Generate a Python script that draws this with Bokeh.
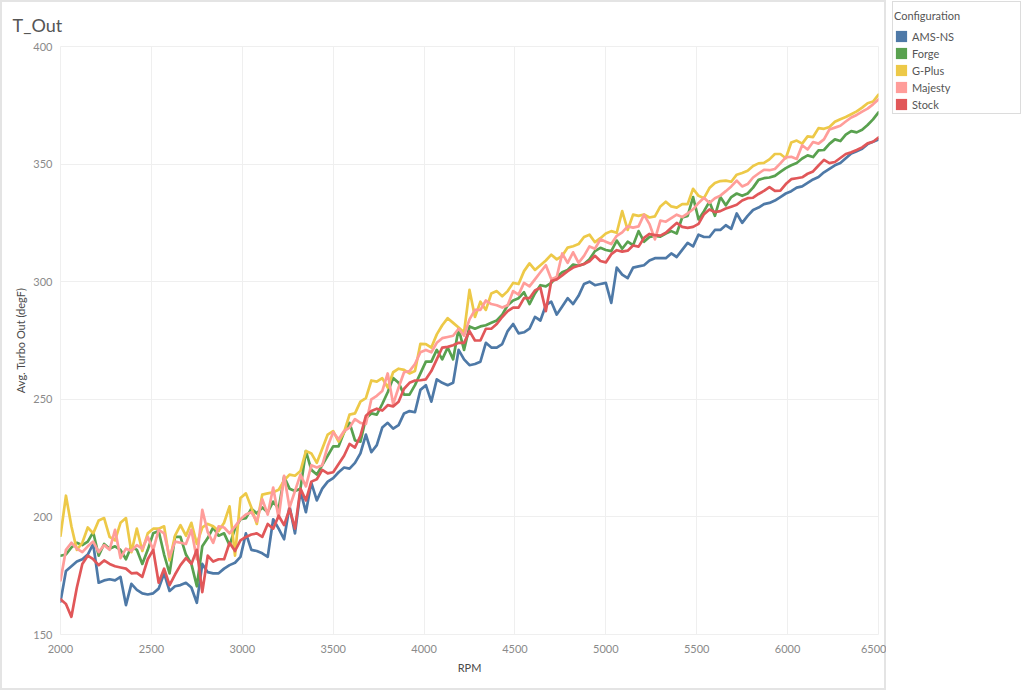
from bokeh.plotting import figure
from bokeh.layouts import row
from bokeh.models import Range1d, FixedTicker, Legend, LegendItem, ColumnDataSource
from bokeh.embed import file_html
from bokeh.resources import INLINE

# ---------------- data ----------------
rpm = list(range(2000, 6501, 30))

configs = ["AMS-NS", "Forge", "G-Plus", "Majesty", "Stock"]
colors = ["#4e79a7", "#59a14f", "#edc948", "#ff9d9a", "#e15759"]

ams_ns = [
    164, 177, 179, 181, 182, 184, 188.5, 172, 173, 173.5,
    173, 174.5, 162.5, 171.5, 169, 167.5, 167, 167.5, 169.5, 176,
    168.5, 170.5, 171, 172, 170, 163.5, 180, 176.5, 176, 176,
    178, 179.5, 180.5, 183, 193, 186, 185.5, 184.5, 183, 199,
    195, 190.5, 204.5, 193, 211, 202, 214.5, 207, 212, 215,
    216.5, 219, 221, 220.5, 223, 227, 235, 227.5, 230.5, 238,
    240, 237.5, 239, 244, 245, 244.5, 254, 256, 249, 258.5,
    257, 256, 257, 271, 267, 264.5, 265, 266, 274, 272,
    272, 273.5, 279, 282, 278, 278.5, 280, 285, 283.5, 290,
    291.5, 286, 289.5, 293, 290.5, 294, 299, 300, 298.5, 299,
    299.5, 291, 306, 303, 301.5, 306, 306.5, 307, 309, 310,
    310, 310, 312, 310.5, 313.5, 316.5, 315, 320, 319, 319,
    322, 322, 324, 322.5, 329, 325, 328, 330.5, 331.5, 333,
    333.5, 334.5, 336, 337.5, 338.5, 340, 340.5, 342, 343.5, 344.5,
    346.5, 348, 349.5, 350.5, 352.5, 354.5, 355.5, 356.5, 358.5, 359.5, 360.5,
]

forge = [
    183.5, 184, 187, 189, 188, 189.5, 193.5, 183.5, 188.5, 186.5,
    187.5, 186, 182, 187.5, 186, 180, 186, 193, 194, 184,
    176, 191.5, 191.5, 184, 180, 170.5, 187.5, 191, 195.5, 192,
    193, 188, 195, 199, 199.5, 203.5, 201.5, 204, 202, 206.5,
    203.5, 217, 212, 211, 212, 228, 220, 218, 222, 226,
    230, 230, 236, 240, 232.5, 232, 242, 244, 243.5, 248,
    253, 259, 257, 252, 252, 256, 261, 266, 266, 271,
    267, 272, 267, 280, 271, 281, 280, 281, 281.5, 282.5,
    283.5, 286, 290, 292, 293, 295.5, 290.5, 295, 298.5, 298,
    299.5, 302, 304, 305, 307.3, 306.8, 307.5, 309.5, 313, 314.4,
    313.5, 313, 317.5, 314, 317, 315.5, 321.5, 317, 319, 319.5,
    319.2, 320.5, 321.5, 320.5, 327.3, 328, 336, 326.5, 330, 334,
    328, 336, 332.5, 336, 337.5, 336.5, 337.5, 340, 343.3, 344,
    344.3, 345, 346.7, 348.3, 349.5, 350.5, 352.4, 353.7, 353, 355.8,
    356, 358.6, 360.5, 359.8, 362.5, 364, 363.5, 364.6, 366.6, 369, 372,
]

g_plus = [
    192, 209, 196, 186, 189, 195.5, 193, 198.5, 199.5, 191.5,
    190, 197.5, 199.5, 185, 195, 185.5, 193, 195, 195, 196,
    181.5, 192, 196.5, 192, 197.5, 188.5, 195.5, 197, 196, 194,
    197.5, 204.5, 183.5, 208, 210, 204, 197, 209.5, 210, 210.5,
    211.5, 215.5, 218, 217.5, 219.5, 228, 227, 223, 229, 235,
    236.5, 232, 236, 243.5, 244, 249, 250.5, 258, 257.5, 259,
    255, 261.5, 263, 262.5, 261, 262, 273.6, 273.5, 272, 277.6,
    281.5, 284.5, 282.5, 280.5, 278.5, 296.5, 285, 291.5, 288, 295,
    296, 293.8, 296, 299.5, 299, 304.5, 307.8, 305, 307, 309,
    311.5, 309.5, 311, 314.5, 315.1, 316, 319, 320, 316.8, 318.5,
    320.5, 321.5, 320.8, 330, 322, 328.5, 328, 328.6, 327.3, 327.8,
    332, 334, 332, 331.5, 333, 333, 339.5, 336.5, 335.5, 339.8,
    342, 342.8, 343, 342.5, 345.5, 346.2, 347.2, 349.2, 350.3, 350.5,
    352, 354.3, 354.3, 352.5, 359.2, 360, 358.7, 361.8, 361.5, 365.3,
    365, 365.8, 368, 369.1, 370, 371.2, 372.4, 374, 375.9, 376.6, 379.5,
]

majesty = [
    173, 186, 189, 186.5, 185, 187.5, 189.5, 185, 188, 186,
    194.5, 182.5, 186.5, 185.5, 188, 186.5, 191.5, 186, 194.5, 193,
    183, 189.5, 189, 188.5, 194.5, 182, 203, 193.5, 189, 196,
    195.5, 193, 196, 199, 201, 202, 198, 207.5, 201, 212.5,
    199.5, 217.5, 204, 211, 218, 213, 222, 221, 222, 230,
    236, 233, 236.5, 238, 241.6, 240, 239.5, 250, 251.5, 253.5,
    261, 248, 255, 261.5, 262, 265, 270, 271, 270, 274,
    276, 276.5, 277, 280, 277, 284, 288, 288, 292, 290.5,
    290, 289, 290, 296, 294.5, 299.5, 298, 301, 304, 307,
    301, 302, 312, 308, 312.5, 308, 311, 315, 314, 318,
    317, 316, 319.5, 321, 323.5, 323, 323.5, 328.5, 324.5, 318,
    326, 325.5, 327, 328.5, 327.5, 329, 330.8, 333.5, 335.7, 333.5,
    335.5, 336.6, 338.5, 340.5, 343, 340.5, 341.5, 344.3, 346, 347.6,
    347.4, 347.9, 350.3, 352.9, 353.1, 352.2, 358, 356.2, 359.4, 358.7,
    360.5, 364.7, 365.5, 366.3, 368.1, 369.8, 370.9, 372.3, 373.6, 375.4, 377.5,
]

stock = [
    165, 163, 157.5, 170, 180, 183.5, 182, 179.5, 181.5, 180,
    179, 178.5, 178, 176, 176.2, 174.5, 182, 186, 172, 178,
    171, 175.5, 179.5, 182.5, 180, 186, 168, 183.5, 181, 182,
    182, 189, 185.5, 190, 191.5, 192.5, 193, 191.5, 197, 195,
    200.5, 196.5, 203.5, 195, 212, 207, 215, 216, 220, 218.5,
    219, 222.5, 226, 231, 229.5, 234.5, 243, 245, 246, 245.2,
    247.5, 247, 249, 254.5, 257, 258, 258.1, 258.5, 262, 267,
    272, 272.3, 273, 274, 274, 279, 275, 275, 280, 280,
    282, 285, 287.5, 289, 289, 293, 293, 296.3, 297.5, 287.5,
    300.3, 301, 302.7, 304.5, 306, 306.8, 307.5, 308.7, 311, 308.8,
    308.2, 311.7, 313.4, 312.8, 313.2, 315.4, 314.9, 318.6, 320.3, 319.8,
    319.6, 320.8, 322.9, 325, 323.3, 322.9, 323.3, 324.6, 328.7, 330.7,
    329.6, 330, 331.1, 331.9, 332.7, 334.5, 335.5, 335.7, 337.3, 338.6,
    340.2, 338.6, 338.7, 341.5, 343.6, 344, 344.4, 345.9, 346.9, 349.4,
    351.8, 350.4, 350.9, 352.6, 354.3, 355, 356, 357.1, 358.8, 359.5, 361.3,
]

series = [ams_ns, forge, g_plus, majesty, stock]

x_ticks = [2000, 2500, 3000, 3500, 4000, 4500, 5000, 5500, 6000, 6500]
y_ticks = [150, 200, 250, 300, 350, 400]

FONT = "Lato"
H = 692
W_MAIN = 886
W_LEG = 136

# ---------------- main chart ----------------
p = figure(
    width=W_MAIN, height=H,
    output_backend="svg", toolbar_location=None,
    x_range=Range1d(2000, 6500), y_range=Range1d(150, 400),
    min_border_left=60, min_border_right=W_MAIN - 60 - 818,
    min_border_top=44, min_border_bottom=H - 634,
    title="T_Out",
)
p.frame_align = False

p.background_fill_color = "white"
p.border_fill_color = None
p.outline_line_color = "#efefef"

p.title.text_font = FONT
p.title.text_font_size = "18px"
p.title.text_font_style = "normal"
p.title.text_color = "#555555"
p.title.align = "left"
p.title.offset = -48
p.title.standoff = 22

for ax in (p.xaxis[0], p.yaxis[0]):
    ax.axis_line_color = None
    ax.major_tick_line_color = None
    ax.minor_tick_line_color = None
    ax.major_tick_out = 0
    ax.major_tick_in = 0
    ax.minor_tick_out = 0
    ax.minor_tick_in = 0
    ax.major_label_text_font = FONT
    ax.major_label_text_font_size = "11px"
    ax.major_label_text_color = "#8a8a8a"
    ax.axis_label_text_font = FONT
    ax.axis_label_text_font_size = "11px"
    ax.axis_label_text_font_style = "normal"
    ax.axis_label_text_color = "#4a4a4a"

p.xaxis.ticker = FixedTicker(ticks=x_ticks)
p.yaxis.ticker = FixedTicker(ticks=y_ticks)
p.xaxis.axis_label = "RPM"
p.yaxis.axis_label = "Avg. Turbo Out (degF)"
p.xaxis.major_label_standoff = 10
p.xaxis.axis_label_standoff = 5
p.yaxis.major_label_standoff = 8
p.yaxis.axis_label_standoff = 3

p.xgrid.grid_line_color = "#efefef"
p.ygrid.grid_line_color = "#efefef"

for name, col, vals in zip(configs, colors, series):
    src = ColumnDataSource(dict(rpm=rpm, val=vals))
    p.line("rpm", "val", source=src, line_color=col, line_width=2.7,
           line_join="round", line_cap="round")

g = "linear-gradient(#e4e4e4,#e4e4e4)"
p.styles = {
    "background-color": "white",
    "background-image": ", ".join([g, g, g, g]),
    "background-position": "884px 0px, 0px 688px, 0px 0px, 0px 0px",
    "background-size": "2px 690px, 886px 2px, 2px 690px, 886px 2px",
    "background-repeat": "no-repeat",
}

# ---------------- legend panel ----------------
pl = figure(
    width=W_LEG, height=H,
    output_backend="svg", toolbar_location=None,
    x_range=Range1d(0, 1), y_range=Range1d(0, 1),
    x_axis_location=None, y_axis_location=None,
    min_border=0, min_border_left=0, min_border_right=0,
    min_border_top=0, min_border_bottom=0,
)
pl.frame_align = False
pl.grid.visible = False
pl.outline_line_color = None
pl.background_fill_color = None
pl.border_fill_color = None

nan = float("nan")
items = []
for name, col in zip(configs, colors):
    r = pl.quad(left=[nan], right=[nan], top=[nan], bottom=[nan],
                fill_color=col, line_color=None)
    items.append(LegendItem(label=name, renderers=[r]))

legend = Legend(
    items=items, location=(8, H - 111),
    title="Configuration",
    title_text_font=FONT, title_text_font_size="11px",
    title_text_font_style="normal", title_text_color="#555555",
    title_standoff=7,
    label_text_font=FONT, label_text_font_size="11px", label_text_color="#555555",
    glyph_width=14, glyph_height=14, label_height=14, label_standoff=4,
    spacing=3, padding=0, margin=0,
    border_line_color=None, background_fill_alpha=0,
)
pl.add_layout(legend, "center")

pl.styles = {
    "background-color": "white",
    "background-image": "linear-gradient(#ffffff,#ffffff), linear-gradient(#dcdcdc,#dcdcdc)",
    "background-position": "7px 2px, 6px 1px",
    "background-size": "127px 111px, 129px 113px",
    "background-repeat": "no-repeat",
}

layout = row(p, pl, spacing=0)
open("out.html", "w").write(file_html(layout, INLINE))
